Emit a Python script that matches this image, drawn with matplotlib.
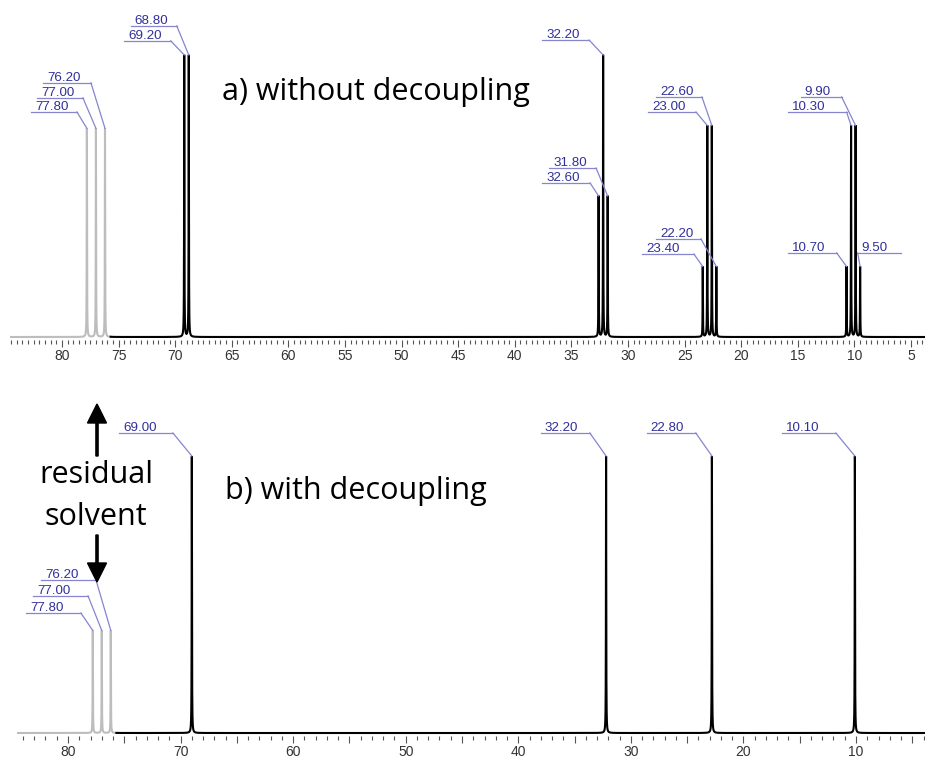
import numpy as np
import matplotlib
matplotlib.use('Agg')
import matplotlib.pyplot as plt
from matplotlib.ticker import MultipleLocator, FuncFormatter

plt.rcParams['font.family'] = ['Liberation Sans', 'DejaVu Sans']

# 13C spectrum a) without decoupling : shift (ppm) / relative intensity
top_shifts = [77.8, 77.0, 76.2, 69.2, 68.8, 32.6, 32.2, 31.8,
              23.4, 23.0, 22.6, 22.2, 10.7, 10.3, 9.9, 9.5]
top_heights = [0.74, 0.74, 0.74, 1.0, 1.0, 0.5, 1.0, 0.5,
               0.25, 0.75, 0.75, 0.25, 0.25, 0.75, 0.75, 0.25]

# b) with decoupling
bot_shifts = [77.8, 77.0, 76.2, 69.0, 32.2, 22.8, 10.1]
bot_heights = [0.37, 0.37, 0.37, 1.0, 1.0, 1.0, 1.0]

solvent_cut = 75.7          # CDCl3 triplet is drawn in grey

# label layout: shift -> (leader left ppm, leader right ppm, leader height, slant from left end)
top_labels = {
    77.8: (82.73, 78.68, 0.798, False),
    77.0: (82.20, 78.15, 0.848, False),
    76.2: (81.68, 77.44, 0.901, False),
    69.2: (74.53, 70.39, 1.050, False),
    68.8: (73.92, 69.86, 1.103, False),
    32.6: (37.58, 33.35, 0.546, False),
    32.2: (37.58, 33.44, 1.053, False),
    31.8: (36.97, 32.82, 0.599, False),
    23.4: (28.77, 24.18, 0.294, False),
    23.0: (28.24, 24.00, 0.798, False),
    22.6: (27.53, 23.47, 0.851, False),
    22.2: (27.53, 23.56, 0.348, False),
    10.7: (15.89, 11.57, 0.298, False),
    10.3: (15.89, 10.69, 0.797, False),
    9.9: (14.74, 11.13, 0.851, False),
    9.5: (9.72, 5.93, 0.298, True),
}
bot_labels = {
    77.8: (83.73, 78.85, 0.433, False),
    77.0: (83.10, 78.22, 0.495, False),
    76.2: (82.40, 77.51, 0.552, False),
    69.0: (75.47, 70.68, 1.083, False),
    32.2: (37.99, 33.64, 1.083, False),
    22.8: (28.58, 24.23, 1.083, False),
    10.1: (16.59, 11.79, 1.083, False),
}

W, H = 925, 758
GREY = '#bdbdbd'
LEAD = '#8585d0'
LBL = '#30309a'

fig = plt.figure(figsize=(W / 100, H / 100), dpi=100)


def px_axes(x0, y0, x1, y1):
    return fig.add_axes([x0 / W, 1 - y1 / H, (x1 - x0) / W, (y1 - y0) / H])


def draw_spectrum(ax, shifts, heights, hw=0.015):
    lo, hi = ax.get_xlim()
    x = np.linspace(lo, hi, 80000)
    y = np.zeros_like(x)
    for s, h in zip(shifts, heights):
        y += h * hw ** 2 / ((x - s) ** 2 + hw ** 2)
    solv = x >= solvent_cut - 0.01
    ax.plot(x[solv], y[solv], color=GREY, lw=1.5, solid_joinstyle='miter')
    ax.plot(x[x <= solvent_cut], y[x <= solvent_cut], color='black', lw=1.5, solid_joinstyle='miter')


def draw_labels(ax, shifts, heights, layout):
    for s, h in zip(shifts, heights):
        x0, x1, yl, from_left = layout[s]
        xe = x0 if from_left else x1
        ax.plot([x0, x1], [yl, yl], color=LEAD, lw=0.9)
        ax.plot([xe, s], [yl, h], color=LEAD, lw=0.9)
        ax.annotate(f'{s:.2f}', (x0, yl), xytext=(4, 2), textcoords='offset pixels',
                    fontsize=9.6, color=LBL, ha='left', va='baseline')


def setup_axes(ax, xlim, ylim, major, minor, every):
    ax.set_xlim(xlim)
    ax.set_ylim(ylim)
    for sp in ax.spines.values():
        sp.set_visible(False)
    ax.yaxis.set_visible(False)
    ax.patch.set_visible(False)
    ax.xaxis.set_major_locator(MultipleLocator(major))
    ax.xaxis.set_minor_locator(MultipleLocator(minor))
    ax.xaxis.set_major_formatter(FuncFormatter(
        lambda v, p: f'{v:.0f}' if round(v) % every == 0 else ''))
    ax.tick_params(axis='x', which='major', length=5, width=0.8, color='#555555',
                   labelsize=10, labelcolor='#333333', pad=2)
    ax.tick_params(axis='x', which='minor', length=3, width=0.8, color='#555555')


# a) without decoupling
ax1 = px_axes(10, 0, 925, 339.5)
setup_axes(ax1, (84.59, 3.77), (-2.5 / 282, 337 / 282), 5, 0.5, 5)
draw_spectrum(ax1, top_shifts, top_heights)
draw_labels(ax1, top_shifts, top_heights, top_labels)

# b) with decoupling
ax2 = px_axes(17, 370, 925, 735.5)
setup_axes(ax2, (84.53, 3.87), (-2.5 / 277, 363 / 277), 5, 1, 10)
draw_spectrum(ax2, bot_shifts, bot_heights)
draw_labels(ax2, bot_shifts, bot_heights, bot_labels)

# overlay in pixel units for the captions and arrows
ov = fig.add_axes([0, 0, 1, 1])
ov.set_xlim(0, W)
ov.set_ylim(H, 0)
ov.axis('off')
big = dict(family=['Open Sans', 'DejaVu Sans'], fontsize=22, color='black', va='baseline')
ov.text(222, 100, 'a) without decoupling', ha='left', **big)
ov.text(225, 499, 'b) with decoupling', ha='left', **big)
ov.text(96, 483, 'residual', ha='center', **big)
ov.text(96, 525, 'solvent', ha='center', **big)
ov.arrow(97, 456, 0, -52, width=2.2, head_width=19, head_length=19,
         length_includes_head=True, color='black')
ov.arrow(97, 535, 0, 47, width=2.2, head_width=19, head_length=19,
         length_includes_head=True, color='black')

fig.savefig('out.png', dpi=100)
